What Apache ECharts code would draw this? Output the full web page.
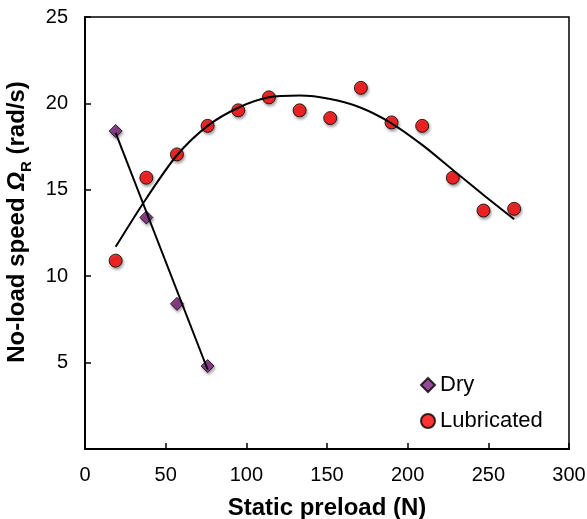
<!DOCTYPE html>
<html>
<head>
<meta charset="utf-8">
<script src="https://cdn.jsdelivr.net/npm/echarts@6/dist/echarts.min.js"></script>
<style>
  html, body { margin: 0; padding: 0; background: #fff; }
  #chart { width: 587px; height: 519px; }
</style>
</head>
<body>
<div id="chart"></div>
<script>
// static preload (N) vs no-load speed (rad/s)
const preloadDry = [19, 38, 57, 76];
const speedDry = [18.4, 13.4, 8.4, 4.8];

const preloadLub = [19, 38, 57, 76, 95, 114, 133, 152, 171, 190, 209, 228, 247, 266];
const speedLub = [10.9, 15.7, 17.05, 18.7, 19.6, 20.35, 19.6, 19.15, 20.9, 18.9, 18.7, 15.7, 13.8, 13.9];

// trend lines
const dryFitX = [19, 76];
const dryFitY = [18.3, 4.6];
const lubFitX = [19, 38, 57, 76, 95, 114, 133, 152, 171, 190, 209, 228, 247, 266];
const lubFitY = [11.7, 14.5, 17.0, 18.7, 19.75, 20.35, 20.45, 20.25, 19.75, 18.85, 17.6, 16.15, 14.7, 13.3];

const xTicks = [0, 50, 100, 150, 200, 250, 300];
const yTicks = [0, 5, 10, 15, 20, 25];

const font = 'Liberation Sans, Arial, sans-serif';
const zip = (xs, ys) => xs.map((x, i) => [x, ys[i]]);

const chart = echarts.init(document.getElementById('chart'));
const shadow = {
    borderColor: '#000',
    borderWidth: 1,
    shadowBlur: 3,
    shadowColor: 'rgba(0,0,0,0.45)',
    shadowOffsetX: 1,
    shadowOffsetY: 2
};

const option = {
    animation: false,
    textStyle: { fontFamily: font },
    grid: {
        left: 85, right: 18, top: 17, bottom: 70,
        containLabel: false, outerBoundsMode: 'none',
        show: true, borderColor: '#000', borderWidth: 1.5
    },
    legend: {
        data: ['Dry', 'Lubricated'],
        orient: 'vertical',
        left: 415, top: 369,
        itemWidth: 14, itemHeight: 14, itemGap: 14,
        textStyle: { fontFamily: font, fontSize: 22, color: '#000' }
    },
    xAxis: {
        type: 'value',
        min: xTicks[0], max: xTicks[xTicks.length - 1], interval: 50,
        name: 'Static preload (N)',
        nameLocation: 'middle', nameGap: 47,
        nameTextStyle: { fontFamily: font, fontSize: 24, fontWeight: 'bold', color: '#000' },
        axisLine: { lineStyle: { color: '#000', width: 2 } },
        axisTick: { inside: true, length: 6, lineStyle: { color: '#000', width: 1.5 } },
        axisLabel: { margin: 16, fontSize: 20, color: '#000', fontFamily: font },
        splitLine: { show: false }
    },
    yAxis: {
        type: 'value',
        min: yTicks[0], max: yTicks[yTicks.length - 1], interval: 5,
        name: '{t|No-load speed }{o|Ω}{s|R}{t| (rad/s)}',
        nameLocation: 'middle', nameGap: 41,
        nameTextStyle: {
            padding: [0, 0, 0, 22],
            rich: {
                t: { fontFamily: font, fontSize: 24, fontWeight: 'bold', color: '#000' },
                o: { fontFamily: font, fontSize: 24, fontWeight: 'bold', fontStyle: 'italic', color: '#000' },
                s: { fontFamily: font, fontSize: 15, fontWeight: 'bold', color: '#000', padding: [20, 0, 0, 0] }
            }
        },
        axisLine: { lineStyle: { color: '#000', width: 2 } },
        axisTick: { inside: true, length: 6, lineStyle: { color: '#000', width: 1.5 } },
        axisLabel: {
            margin: 17, fontSize: 20, color: '#000', fontFamily: font,
            formatter: v => (v === 0 ? '' : v)
        },
        splitLine: { show: false }
    },
    series: [
        {
            name: 'Dry', type: 'scatter', symbol: 'diamond', symbolSize: 13,
            itemStyle: Object.assign({ color: '#7b1e7b' }, shadow),
            data: zip(preloadDry, speedDry), z: 3
        },
        {
            name: 'Lubricated', type: 'scatter', symbol: 'circle', symbolSize: 13,
            itemStyle: Object.assign({ color: '#ff0000' }, shadow),
            data: zip(preloadLub, speedLub), z: 3
        },
        {
            name: 'Dry fit', type: 'line', showSymbol: false, silent: true,
            lineStyle: { color: '#000', width: 2 },
            data: zip(dryFitX, dryFitY), z: 4
        },
        {
            name: 'Lubricated fit', type: 'line', showSymbol: false, silent: true, smooth: 0.3,
            lineStyle: { color: '#000', width: 2 },
            data: zip(lubFitX, lubFitY), z: 4
        }
    ]
};

chart.setOption(option);

window.addEventListener('resize', function () {
    chart.resize();
});
</script>
</body>
</html>
